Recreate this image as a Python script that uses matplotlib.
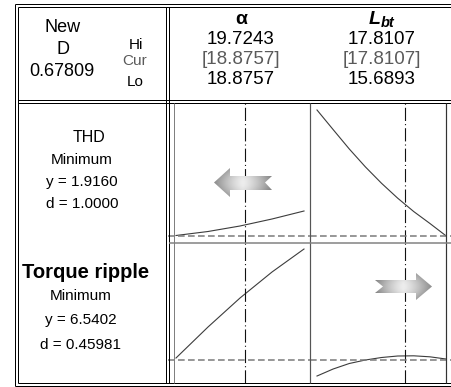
#response optimizer plot (THD / torque ripple vs alpha and Lbt)
import numpy as np
import matplotlib.pyplot as plt
from matplotlib.patches import Polygon

plt.rcParams['font.family'] = ['Liberation Sans', 'DejaVu Sans']
plt.rcParams['lines.scale_dashes'] = False

W, H = 452, 387

# factor settings (Hi / Cur / Lo)
alpha_hi, alpha_cur, alpha_lo = 19.7243, 18.8757, 18.8757
lbt_hi, lbt_cur, lbt_lo = 17.8107, 17.8107, 15.6893
D_new = 0.67809

# responses
thd_y, thd_d = 1.9160, 1.0000
tr_y, tr_d = 6.5402, 0.45981

# curves
alpha_grid = [18.8757, 19.0879, 19.3000, 19.5122, 19.7243]
thd_vs_alpha = [1.924, 1.988, 2.076, 2.188, 2.316]
tr_vs_alpha = [6.580, 7.200, 7.780, 8.300, 8.760]

lbt_grid = [15.6893, 15.9545, 16.2196, 16.4848, 16.7500, 17.0152, 17.2804, 17.5455, 17.8107]
thd_vs_lbt = [3.932, 3.619, 3.309, 3.022, 2.760, 2.522, 2.307, 2.117, 1.919]
tr_vs_lbt = [6.220, 6.360, 6.470, 6.540, 6.590, 6.620, 6.624, 6.604, 6.560]

# position of the vertical reference lines
alpha_ref = 19.333
lbt_ref = 17.1365

fig = plt.figure(figsize=(W / 100, H / 100), dpi=100)


def px_axes(x0, y0, x1, y1):
    ax = fig.add_axes([x0 / W, 1 - y1 / H, (x1 - x0) / W, (y1 - y0) / H])
    ax.axis('off')
    return ax


ax11 = px_axes(174.5, 103, 310, 242.7)
ax12 = px_axes(310, 103, 446, 242.7)
ax21 = px_axes(174.5, 242.7, 310, 383)
ax22 = px_axes(310, 242.7, 446, 383)

for ax in (ax11, ax21):
    ax.set_xlim(18.8658, 19.7641)
for ax in (ax12, ax22):
    ax.set_xlim(15.5742, 17.8107)
for ax in (ax11, ax12):
    ax.set_ylim(1.8088, 4.044)
for ax in (ax21, ax22):
    ax.set_ylim(6.0802, 8.8862)

curve_kw = dict(color='#3c3c3c', lw=0.8)
ax11.plot(alpha_grid, thd_vs_alpha, **curve_kw)
ax21.plot(alpha_grid, tr_vs_alpha, **curve_kw)
ax12.plot(lbt_grid, thd_vs_lbt, **curve_kw)
ax22.plot(lbt_grid, tr_vs_lbt, **curve_kw)

vkw = dict(color='#111111', lw=0.8, dashes=(9.5, 2.2, 0.8, 2.2))
for ax in (ax11, ax21):
    ax.axvline(alpha_ref, **vkw)
for ax in (ax12, ax22):
    ax.axvline(lbt_ref, **vkw)

hkw = dict(color='#7a7a7a', lw=1.1, dashes=(4.8, 2.4), clip_on=False)
ax11.axhline(thd_y, xmin=-0.048, xmax=1, **hkw)
ax12.axhline(thd_y, xmin=0, xmax=1.05, **hkw)
ax21.axhline(tr_y, xmin=-0.048, xmax=1, **hkw)
ax22.axhline(tr_y, xmin=0, xmax=1.05, **hkw)

# overlay in pixel units for the table frame, text and arrows
ov = fig.add_axes([0, 0, 1, 1], zorder=5)
ov.set_xlim(0, W)
ov.set_ylim(H, 0)
ov.axis('off')
ov.patch.set_alpha(0)


def hl(y, x0, x1, c='k', lw=1.0):
    ov.plot([x0, x1], [y, y], color=c, lw=lw * 0.72, solid_capstyle='butt')


def vl(x, y0, y1, c='k', lw=1.0):
    ov.plot([x, x], [y0, y1], color=c, lw=lw * 0.72, solid_capstyle='butt')


hl(3.5, 15, W); vl(15, 3.5, 386); hl(386, 15, W)
hl(6.5, 18.5, W); vl(18.5, 6.5, 383); hl(383, 18.5, W)
hl(100, 18.5, W); hl(102.5, 18.5, W)
vl(166, 6.5, 383); vl(169, 6.5, 383)
vl(174.5, 103, 383, '#808080')
vl(310, 103, 383, '#555555', 1.2)
vl(446, 103, 383, '#333333', 1.2)
hl(242.7, 169, W, '#808080', 1.5)

grey = '#5a5a5a'
ov.text(63, 28, 'New', size=13, ha='center', va='center')
ov.text(63, 50, 'D', size=13, ha='center', va='center')
ov.text(62, 72, f'{D_new:.5f}', size=13, ha='center', va='center')
ov.text(136, 45, 'Hi', size=11, ha='center', va='center')
ov.text(135, 61, 'Cur', size=11, ha='center', va='center', color=grey)
ov.text(135, 82, 'Lo', size=11, ha='center', va='center')

ov.text(241, 19, 'α', size=14, weight='bold', ha='center', va='center')
ov.text(381, 19, 'L', size=14, weight='bold', style='italic', ha='right', va='center')
ov.text(381, 23, 'bt', size=10.5, weight='bold', style='italic', ha='left', va='center')
for xc, hi, cur, lo in ((241, alpha_hi, alpha_cur, alpha_lo), (382, lbt_hi, lbt_cur, lbt_lo)):
    ov.text(xc, 40, f'{hi:.4f}', size=13.5, ha='center', va='center')
    ov.text(xc, 60, f'[{cur:.4f}]', size=13.5, ha='center', va='center', color=grey)
    ov.text(xc, 80, f'{lo:.4f}', size=13.5, ha='center', va='center')

ov.text(89, 138, 'THD', size=11.5, ha='center', va='center')
ov.text(82, 160, 'Minimum', size=11, ha='center', va='center')
ov.text(82, 182, f'y = {thd_y:.4f}', size=11, ha='center', va='center')
ov.text(82, 204, f'd = {thd_d:.4f}', size=11, ha='center', va='center')

ov.text(86, 273, 'Torque ripple', size=14.5, weight='bold', ha='center', va='center')
ov.text(81, 296, 'Minimum', size=11, ha='center', va='center')
ov.text(81, 320, f'y = {tr_y:.4f}', size=11, ha='center', va='center')
ov.text(81, 345, f'd = {tr_d:.5f}', size=11, ha='center', va='center')


def grad_arrow(verts):
    verts = np.array(verts, dtype=float)
    poly = Polygon(verts, closed=True, facecolor='none', edgecolor='none')
    ov.add_patch(poly)
    x0, y0 = verts.min(axis=0)
    x1, y1 = verts.max(axis=0)
    u = np.linspace(-1, 1, 80)
    v = np.linspace(-1, 1, 40)
    U, V = np.meshgrid(u, v)
    g = 0.93 - 0.38 * np.abs(U) ** 1.3 - 0.18 * V ** 2
    im = ov.imshow(g, extent=(x0, x1, y1, y0), cmap='gray', vmin=0, vmax=1,
                   aspect='auto', interpolation='bilinear')
    im.set_clip_path(poly)


grad_arrow([(214, 182.5), (230, 168), (230, 176), (272, 176), (265, 182.5),
            (272, 190), (230, 190), (230, 197)])
grad_arrow([(375, 280), (416, 280), (416, 273), (432, 286.5), (416, 300),
            (416, 293), (375, 293), (383, 286.5)])
ov.set_xlim(0, W)
ov.set_ylim(H, 0)

fig.savefig('out.png', dpi=100)
